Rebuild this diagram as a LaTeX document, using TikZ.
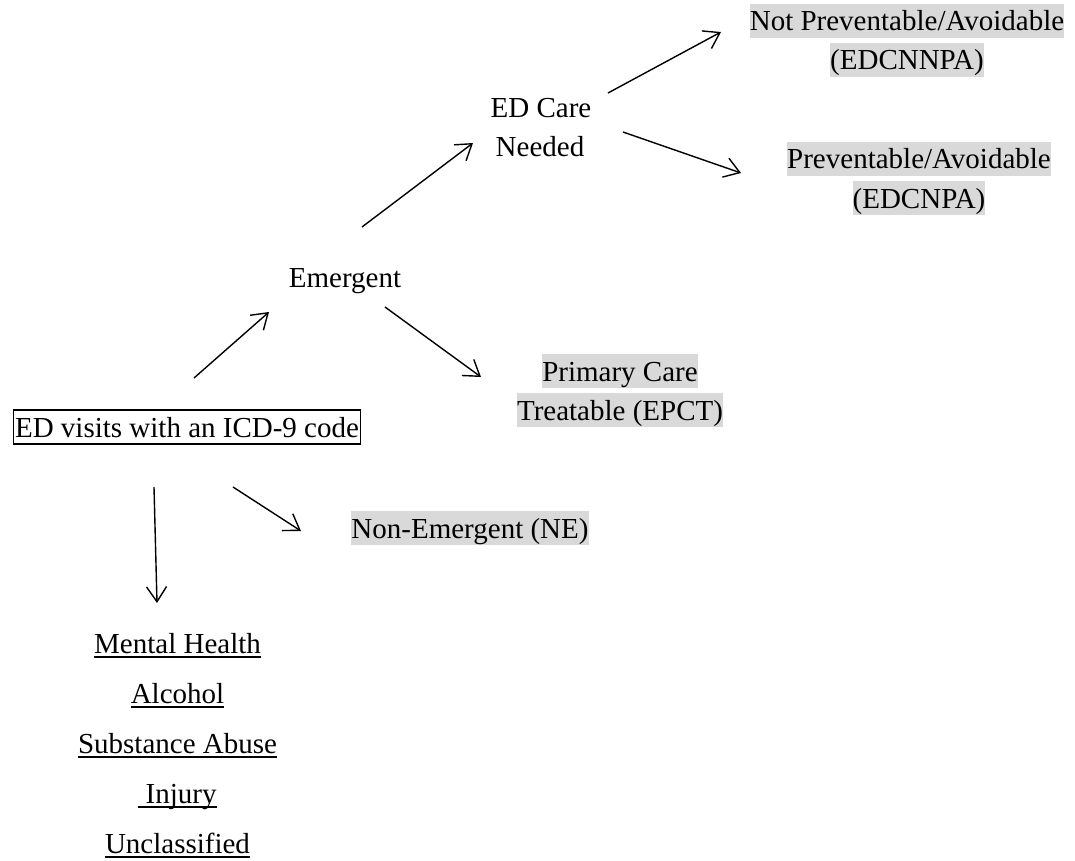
\documentclass[tikz,border=0pt]{standalone}
\usepackage{fontspec}
\setmainfont{Liberation Serif}
\usetikzlibrary{arrows.meta}
\definecolor{hl}{HTML}{D9D9D9}
\newcommand{\myul}[1]{\setbox0\hbox{#1}\rlap{\rule[-4.8pt]{\wd0}{1.6pt}}\box0}
\begin{document}
\begin{tikzpicture}[x=1pt,y=-1pt,
  every node/.style={font=\fontsize{29pt}{39pt}\selectfont, inner sep=0pt, text height=27pt, text depth=7pt, anchor=base},
  hlbox/.style={fill=hl},
  framebox/.style={draw, line width=1.5pt, inner xsep=1.5pt},
  arr/.style={line width=1.4pt, -{Straight Barb[length=15pt,width=20pt]}},
]
\useasboundingbox (0,0) rectangle (1075,861);

% nodes
\node[framebox] (box) at (187,437) {ED visits with an ICD-9 code};
\node (emerg) at (345,287) {Emergent};
\node (edc1) at (541,118) {ED Care};
\node (edc2) at (540,157) {Needed};
\node[hlbox] (np1) at (907,31) {Not Preventable/Avoidable};
\node[hlbox] (np2) at (907,70) {(EDCNNPA)};
\node[hlbox] (pa1) at (919,169) {Preventable/Avoidable};
\node[hlbox] (pa2) at (919,208) {(EDCNPA)};
\node[hlbox] (pc1) at (620,381) {Primary Care};
\node[hlbox] (pc2) at (620,420) {Treatable (EPCT)};
\node[hlbox] (ne) at (470,538) {Non-Emergent (NE)};
\node (l1) at (177.5,653) {\myul{Mental Health}};
\node (l2) at (177.5,703) {\myul{Alcohol}};
\node (l3) at (177.5,753) {\myul{Substance Abuse}};
\node (l4) at (177.5,803) {\myul{\ Injury}};
\node (l5) at (177.5,853) {\myul{Unclassified}};

% connector end points
\coordinate (a1s) at (194,378); \coordinate (a1e) at (269,312);
\coordinate (a2s) at (385,307); \coordinate (a2e) at (481,377);
\coordinate (a3s) at (362,227); \coordinate (a3e) at (473,143);
\coordinate (a4s) at (608,93);  \coordinate (a4e) at (721,32);
\coordinate (a5s) at (623,132); \coordinate (a5e) at (741,173);
\coordinate (a6s) at (233,487); \coordinate (a6e) at (301,531);
\coordinate (a7s) at (154,487); \coordinate (a7e) at (157,603);

\draw[arr] (a1s) -- (a1e);
\draw[arr] (a2s) -- (a2e);
\draw[arr] (a3s) -- (a3e);
\draw[arr] (a4s) -- (a4e);
\draw[arr] (a5s) -- (a5e);
\draw[arr] (a6s) -- (a6e);
\draw[arr] (a7s) -- (a7e);
\end{tikzpicture}
\end{document}
